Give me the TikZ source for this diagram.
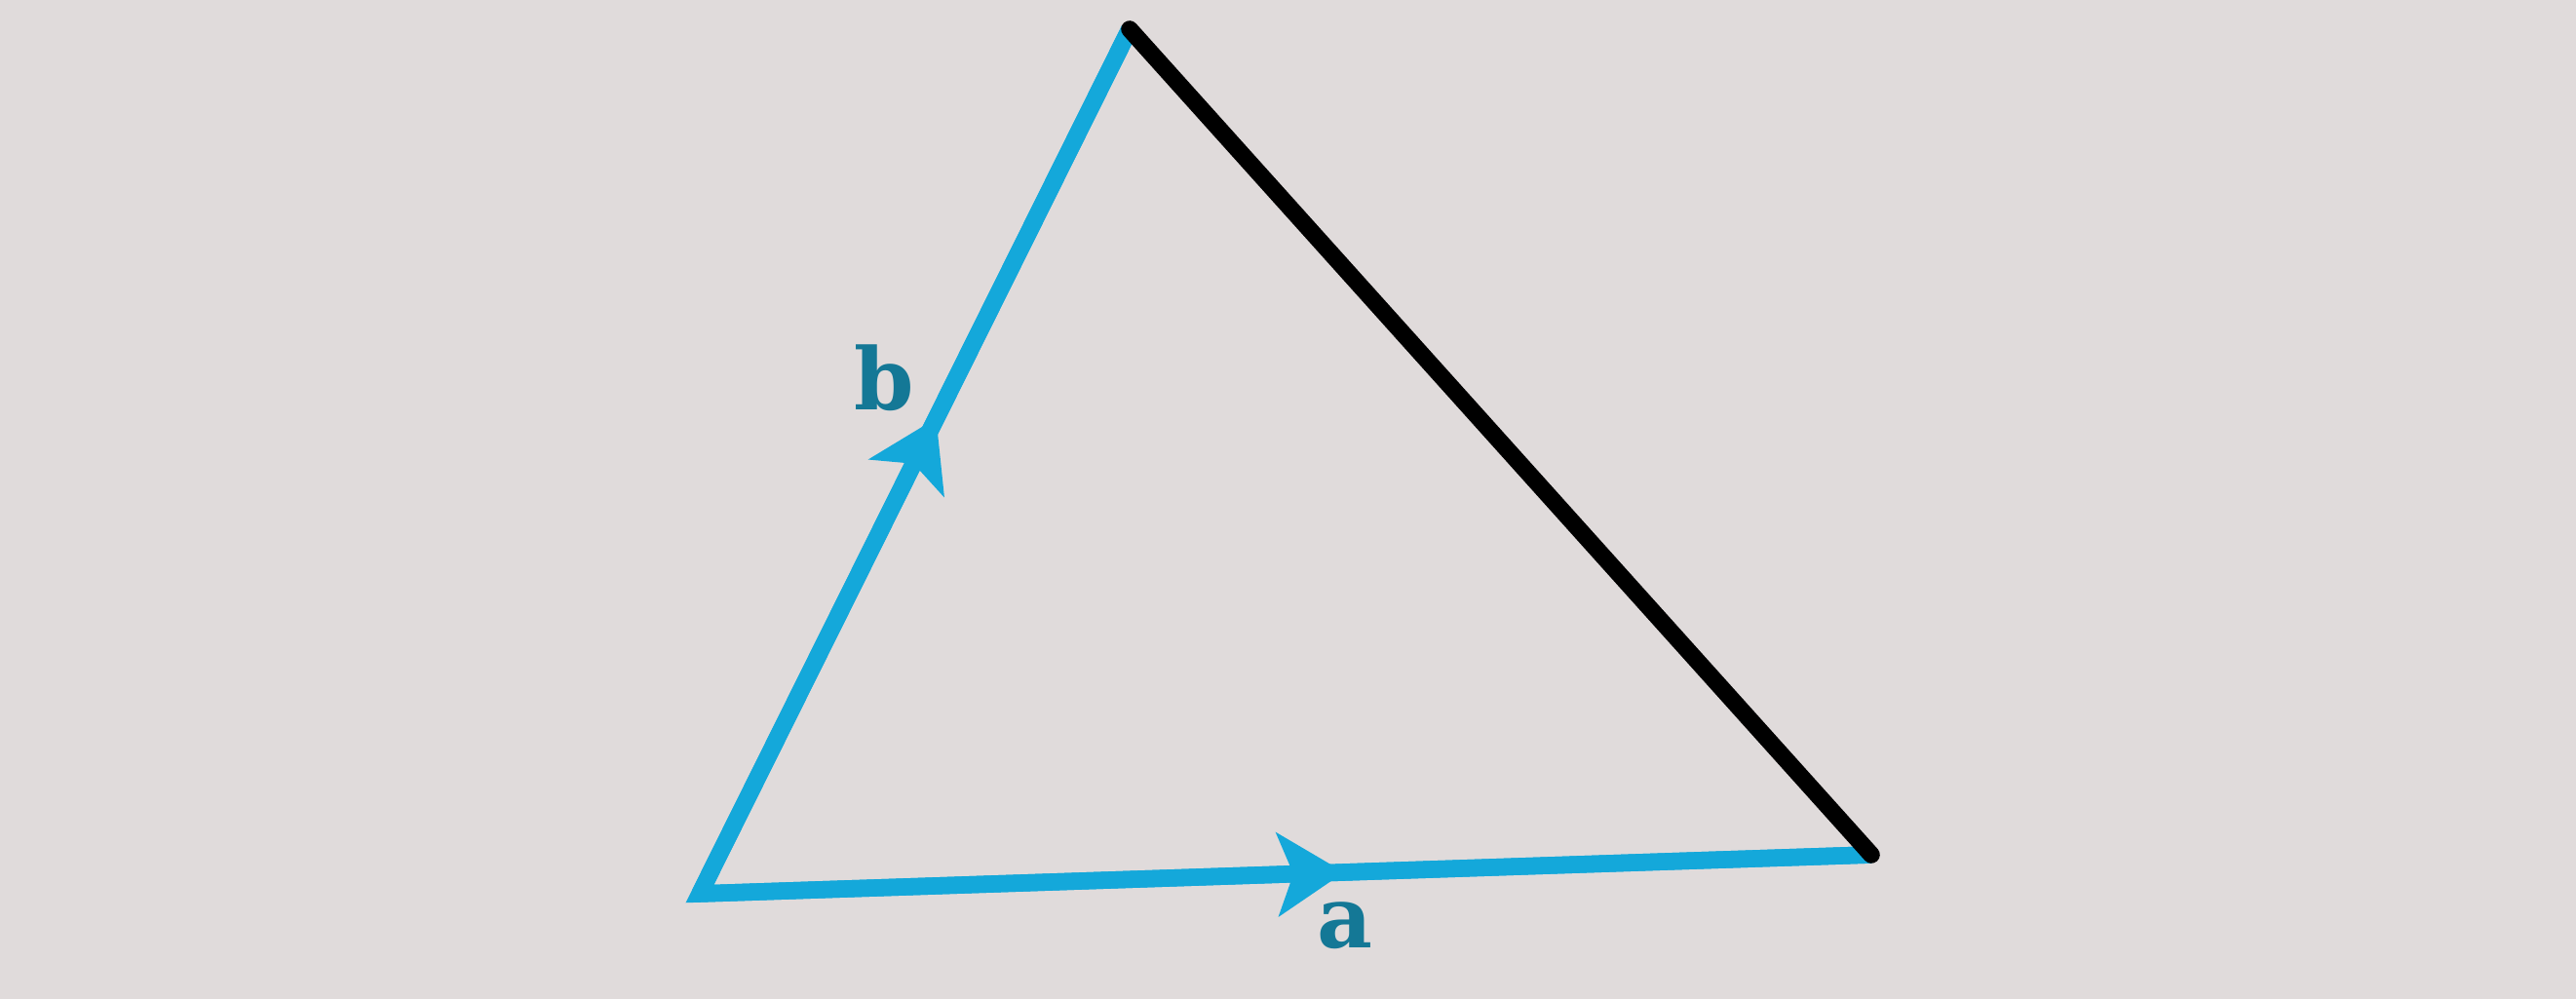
\documentclass[tikz,border=0pt]{standalone}
\usepackage{fontspec}
\setmainfont{DejaVu Serif}
\usepackage{tikz}
\usetikzlibrary{arrows.meta, decorations.markings}
\definecolor{vecblue}{RGB}{20, 168, 218}
\definecolor{labteal}{RGB}{20, 120, 150}
\definecolor{paper}{RGB}{224, 219, 219}

\begin{document}
\begin{tikzpicture}[>=Stealth,
    vec/.style={draw=vecblue, line width=5pt, line join=miter},
    side/.style={draw=black, line width=5pt, line cap=round},
    midtip/.style={postaction={decorate}, decoration={markings,
        mark=at position 0.55 with {\arrow[vecblue]{Stealth[length=6.8mm, width=8.5mm, inset=1.6mm]}}}},
    lab/.style={text=labteal, font=\fontsize{25}{29}\selectfont\bfseries, inner sep=0pt}]
  \fill[paper] (0,0) rectangle (26.43,10.25);
  \useasboundingbox (0,0) rectangle (26.43,10.25);
  \coordinate (O) at (7.18, 1.08);
  \coordinate (A) at (19.20, 1.48);
  \coordinate (B) at (11.59, 9.95);
  % the two vectors
  \draw[vec] (B) -- (O) -- (A);
  \draw[vec, midtip] (O) -- (A);
  \draw[vec, midtip] (O) -- (B);
  % closing side
  \draw[side] (B) -- (A);
  \node[lab] (la) at (13.80, 0.75) {a};
  \node[lab] (lb) at (9.07, 6.37) {b};
\end{tikzpicture}
\end{document}
